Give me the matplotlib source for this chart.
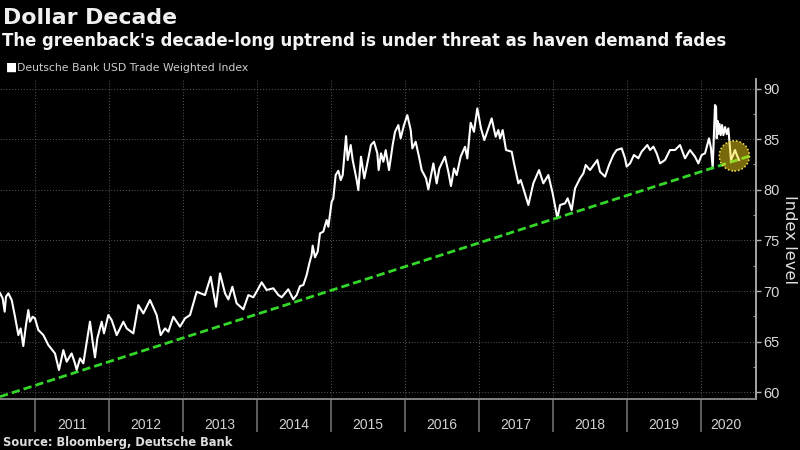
import matplotlib
matplotlib.use("Agg")
from matplotlib import pyplot as plt

# index, time as decimal years
dates = [
    2010.53, 2010.563, 2010.59, 2010.608, 2010.64, 2010.685, 2010.73, 2010.775, 2010.806, 2010.842,
    2010.878, 2010.91, 2010.932, 2010.968, 2011.0, 2011.045, 2011.113, 2011.18, 2011.27, 2011.324,
    2011.383, 2011.428, 2011.495, 2011.54, 2011.563, 2011.608, 2011.653, 2011.689, 2011.743, 2011.779,
    2011.811, 2011.842, 2011.901, 2011.932, 2011.991, 2012.036, 2012.104, 2012.194, 2012.239, 2012.329,
    2012.396, 2012.464, 2012.554, 2012.644, 2012.698, 2012.757, 2012.802, 2012.869, 2012.959, 2013.027,
    2013.095, 2013.185, 2013.297, 2013.374, 2013.446, 2013.5, 2013.568, 2013.613, 2013.667, 2013.725,
    2013.815, 2013.883, 2013.95, 2013.995, 2014.063, 2014.13, 2014.22, 2014.288, 2014.333, 2014.423,
    2014.49, 2014.536, 2014.581, 2014.626, 2014.671, 2014.707, 2014.738, 2014.752, 2014.784, 2014.82,
    2014.851, 2014.896, 2014.941, 2014.964, 2015.009, 2015.031, 2015.063, 2015.099, 2015.131, 2015.158,
    2015.203, 2015.225, 2015.266, 2015.293, 2015.347, 2015.369, 2015.405, 2015.45, 2015.504, 2015.54,
    2015.581, 2015.626, 2015.644, 2015.676, 2015.707, 2015.739, 2015.784, 2015.833, 2015.865, 2015.91,
    2015.941, 2015.986, 2016.031, 2016.077, 2016.099, 2016.144, 2016.194, 2016.225, 2016.284, 2016.315,
    2016.383, 2016.428, 2016.464, 2016.54, 2016.585, 2016.621, 2016.662, 2016.698, 2016.752, 2016.811,
    2016.842, 2016.887, 2016.932, 2016.977, 2017.027, 2017.072, 2017.171, 2017.225, 2017.261, 2017.284,
    2017.32, 2017.365, 2017.442, 2017.473, 2017.532, 2017.563, 2017.599, 2017.667, 2017.734, 2017.811,
    2017.869, 2017.937, 2017.995, 2018.059, 2018.095, 2018.162, 2018.198, 2018.252, 2018.297, 2018.365,
    2018.41, 2018.442, 2018.5, 2018.599, 2018.635, 2018.703, 2018.757, 2018.815, 2018.86, 2018.928,
    2018.973, 2018.995, 2019.041, 2019.094, 2019.153, 2019.198, 2019.275, 2019.311, 2019.356, 2019.401,
    2019.446, 2019.513, 2019.581, 2019.649, 2019.716, 2019.784, 2019.851, 2019.919, 2019.964, 2020.009,
    2020.054, 2020.108, 2020.135, 2020.158, 2020.189, 2020.203, 2020.212, 2020.225, 2020.234, 2020.25,
    2020.266, 2020.284, 2020.302, 2020.325, 2020.347, 2020.369,
    2020.382, 2020.405, 2020.432, 2020.459, 2020.486, 2020.514,
]
index_level = [
    69.78, 69.28, 67.97, 69.45, 69.78, 69.12, 67.47, 65.66, 66.32, 64.58,
    66.65, 68.13, 66.98, 67.47, 67.31, 66.16, 65.66, 64.68, 63.85, 62.21,
    64.18, 63.03, 63.85, 62.87, 62.21, 63.36, 62.87, 64.51, 66.98, 65.0,
    63.46, 65.33, 66.98, 65.83, 67.64, 67.14, 65.66, 66.98, 66.32, 65.83,
    68.62, 67.8, 69.12, 67.64, 65.66, 66.32, 65.99, 67.47, 66.49, 67.31,
    67.64, 69.94, 69.61, 71.42, 68.46, 71.75, 69.78, 69.18, 70.43, 68.79,
    68.2, 69.61, 69.39, 69.95, 70.87, 70.11, 70.28, 69.62, 69.39, 70.18,
    69.19, 69.62, 70.5, 70.6, 71.59, 72.74, 73.57, 74.49, 73.34, 73.9,
    75.7, 75.87, 77.02, 76.36, 78.83, 79.15, 81.46, 81.88, 80.96, 81.46,
    85.3, 82.94, 84.42, 82.94, 80.96, 79.98, 83.27, 81.13, 83.1, 84.42,
    84.75, 83.6, 81.95, 83.6, 82.77, 83.92, 81.95, 84.42, 85.73, 86.39,
    85.08, 86.39, 87.38, 85.9, 84.09, 84.75, 83.1, 81.95, 81.13, 80.04,
    82.61, 80.63, 82.11, 83.27, 81.79, 80.37, 82.11, 81.46, 83.27, 84.25,
    83.1, 86.62, 85.73, 88.04, 86.06, 84.91, 87.05, 85.24, 85.9, 85.08,
    85.9, 83.93, 83.76, 82.61, 80.64, 80.97, 80.14, 78.5, 80.64, 81.95,
    80.64, 81.46, 79.65, 77.18, 78.5, 78.66, 79.16, 78.0, 80.14, 81.13,
    81.62, 82.45, 81.95, 82.94, 81.79, 81.3, 82.45, 83.44, 83.93, 84.09,
    83.11, 82.29, 82.61, 83.44, 83.11, 83.77, 84.42, 83.93, 84.26, 83.6,
    82.61, 82.94, 83.93, 83.93, 84.42, 83.11, 83.93, 83.27, 82.61, 83.44,
    83.6, 85.08, 84.09, 82.12, 88.37, 88.2, 85.08, 86.8, 85.5, 86.5,
    85.4, 86.4, 85.4, 86.2, 85.5, 86.07,
    84.92, 82.94, 83.4, 83.93, 83.4, 82.94,
]

trend_x = [2010.527, 2020.66]
trend_y = [59.58, 83.34]
highlight_x = [2020.45]
highlight_y = [83.35]

year_starts = list(range(2011, 2021))
year_labels = [str(y) for y in range(2011, 2021)]
label_pos = [y + 0.5 for y in range(2011, 2020)] + [2020.33]
y_major = [60, 65, 70, 75, 80, 85, 90]
y_minor = [62.5, 67.5, 72.5, 77.5, 82.5, 87.5]

plt.rcParams['font.family'] = ['DejaVu Sans']
fig = plt.figure(figsize=(8, 4.5), dpi=100, facecolor='black')
ax = fig.add_axes([0, 1 - 399 / 450, 756 / 800, 320 / 450], facecolor='black')

ax.plot(dates, index_level, color='white', lw=1.5, zorder=3)
ax.plot(trend_x, trend_y, color='#35d62a', lw=2, ls=(0, (3, 1.45)), zorder=4)
ax.scatter(highlight_x, highlight_y, s=470, facecolor=(1.0, 0.88, 0.1, 0.47),
           edgecolor='#e8d24a', linewidth=1.2, linestyle=(0, (1, 1.2)), zorder=5)

ax.set_xlim(2010.527, 2020.743)
ax.set_ylim(59.35, 90.94)

for s in ['top', 'left']:
    ax.spines[s].set_visible(False)
ax.spines['bottom'].set_color('#8c8c8c')
ax.spines['bottom'].set_linewidth(1.3)
ax.spines['right'].set_color('#b0b0b0')
ax.spines['right'].set_linewidth(1.3)

ax.yaxis.tick_right()
ax.set_yticks(y_major)
ax.set_yticks(y_minor, minor=True)
ax.tick_params(axis='y', which='major', direction='out', length=3.5, width=1, color='#b0b0b0',
               labelcolor='#d8d8d8', labelsize=10.5, pad=1.5, labelfontfamily='Liberation Sans')
ax.tick_params(axis='y', which='minor', direction='in', length=2.5, width=0.8, color='#909090')
ax.yaxis.set_label_position('right')
ax.set_ylabel('Index level', color='#e0e0e0', fontsize=11.8, rotation=270, va='center', ha='center')
ax.yaxis.set_label_coords(790 / 756, 0.5)

ax.set_xticks(year_starts)
ax.set_xticklabels([''] * len(year_starts))
ax.set_xticks(label_pos, minor=True)
ax.set_xticklabels(year_labels, minor=True)
ax.tick_params(axis='x', which='major', direction='out', length=24, width=1.1, color='#777777')
ax.tick_params(axis='x', which='minor', length=0, labelcolor='#d0d0d0', labelsize=10, pad=14,
               labelfontfamily='Liberation Sans')

ax.grid(True, which='major', color='#5a5a5a', lw=0.7, ls=(0, (1, 2)), zorder=1)
ax.set_axisbelow(True)

fig.text(3 / 800, 1 - 24 / 450, 'Dollar Decade', color='#f0f0f0', fontsize=15.8,
         fontweight='bold', va='baseline')
fig.text(2 / 800, 1 - 46 / 450, "The greenback's decade-long uptrend is under threat as haven demand fades",
         color='#f5f5f5', fontsize=11.9, fontweight='bold', va='baseline')
fig.text(6 / 800, 1 - 71 / 450, '\u25a0', color='white', fontsize=8.5, va='baseline')
fig.text(17 / 800, 1 - 71 / 450, 'Deutsche Bank USD Trade Weighted Index', color='#cccccc',
         fontsize=7.8, va='baseline')
fig.text(3 / 800, 1 - 446 / 450, 'Source: Bloomberg, Deutsche Bank', color='#dddddd',
         fontsize=8.3, fontweight='bold', va='baseline')

fig.savefig('out.png', dpi=100, facecolor='black')
